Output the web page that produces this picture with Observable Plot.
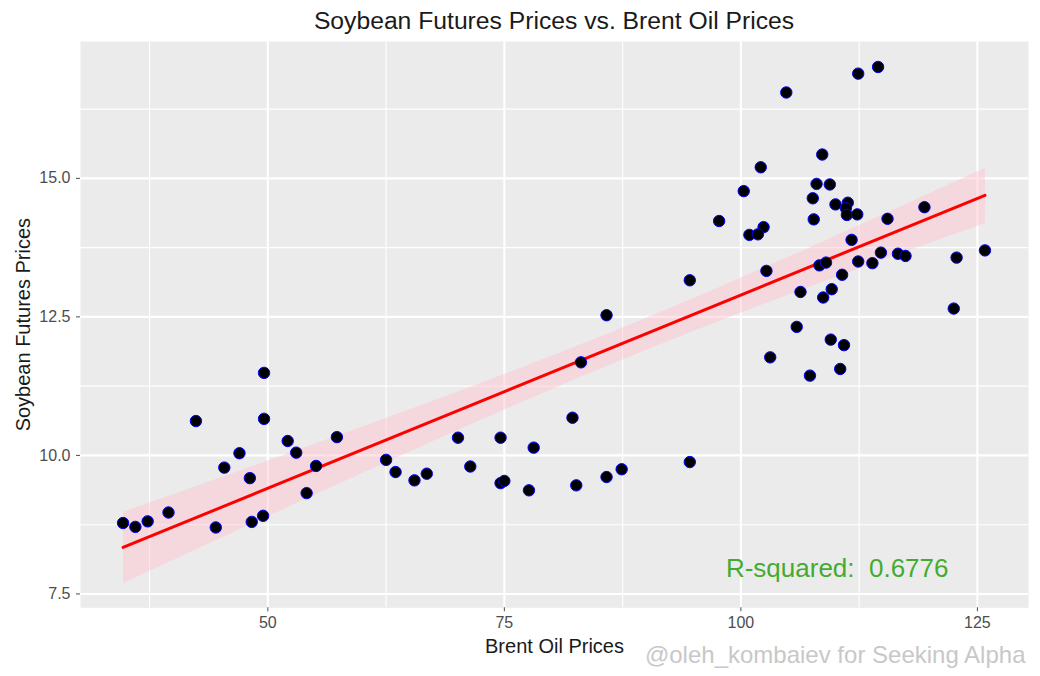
<!DOCTYPE html>
<html>
<head>
<meta charset="utf-8">
<script src="https://cdn.jsdelivr.net/npm/d3@7"></script>
<script src="https://cdn.jsdelivr.net/npm/@observablehq/plot@0.6"></script>
<style>
  body { margin: 0; background: white; font-family: "Liberation Sans", Arial, sans-serif; }
  #wrap { width: 1040px; height: 676px; }
  #title { height: 41px; line-height: 41px; padding-left: 80px; width: 948px; text-align: center; font-size: 24.7px; color: #1a1a1a; }
</style>
</head>
<body>
<div id="wrap">
  <div id="title">Soybean Futures Prices vs. Brent Oil Prices</div>
  <div id="chart"></div>
</div>
<script>
// Brent oil prices (x) and soybean futures prices (y)
const oil = [
  49.6, 42.4, 49.6, 52.1, 53.0, 47.0, 57.3, 45.4, 55.1, 48.1, 54.1, 39.5, 34.7, 36.0, 37.3, 44.5, 48.3, 49.5,
  83.1, 82.2, 70.1, 74.6, 78.1, 62.5, 63.5, 65.5, 66.8, 71.4, 74.6, 75.0, 77.6, 82.6, 85.8, 87.4, 94.6, 85.8, 94.6,
  114.5, 112.4, 104.8, 108.6, 102.1, 100.3, 108.0, 109.4, 107.6, 110.0, 111.3, 111.1, 111.2, 112.3, 107.7, 97.7, 115.5, 119.4, 102.4, 100.9, 101.8, 111.7,
  102.7, 108.3, 109.0, 110.7, 112.4, 113.9, 114.8, 116.6, 117.4, 122.8, 125.8, 106.3, 109.6, 108.7, 122.5, 105.9, 109.5, 110.9, 103.1, 110.5, 107.3
];
const soy = [
  11.49, 10.62, 10.66, 10.26, 10.05, 10.04, 10.33, 9.78, 9.81, 9.59, 9.32, 8.97, 8.78, 8.71, 8.81, 8.70, 8.80, 8.91,
  11.68, 10.68, 10.32, 10.32, 10.14, 9.92, 9.70, 9.55, 9.67, 9.80, 9.50, 9.54, 9.37, 9.46, 9.61, 9.75, 9.88, 12.53, 13.16,
  17.01, 16.89, 16.55, 15.43, 15.20, 14.77, 14.90, 14.89, 14.64, 14.53, 14.56, 14.46, 14.34, 14.35, 14.26, 14.23, 14.27, 14.48, 14.12, 13.98, 13.99, 13.89,
  13.33, 13.43, 13.48, 13.26, 13.50, 13.47, 13.66, 13.64, 13.60, 13.57, 13.70, 12.95, 13.00, 12.85, 12.65, 12.32, 12.09, 11.99, 11.77, 11.56, 11.44
];
const xMajor = [50, 75, 100, 125];
const xMinor = [37.5, 62.5, 87.5, 112.5];
const yMajor = [7.5, 10, 12.5, 15];
const yMinor = [8.75, 11.25, 13.75, 16.25];
const rSquaredLabel = "R-squared:\u00a0 0.6776";
const xTitle = "Brent Oil Prices";
const yTitle = "Soybean Futures Prices";
const credit = "@oleh_kombaiev for Seeking Alpha";

const data = oil.map((x, i) => ({oil: x, soy: soy[i]}));

const chart = Plot.plot({
  width: 1040,
  height: 635,
  marginLeft: 80,
  marginRight: 12,
  marginTop: 0,
  marginBottom: 68.7,
  style: {fontFamily: "Liberation Sans, Arial, sans-serif", background: "white"},
  x: {domain: [30.2, 130.4]},
  y: {domain: [7.25, 17.47]},
  marks: [
    Plot.frame({fill: "#ebebeb", stroke: null}),
    Plot.gridX(xMinor, {stroke: "white", strokeOpacity: 1, strokeWidth: 1.1}),
    Plot.gridY(yMinor, {stroke: "white", strokeOpacity: 1, strokeWidth: 1.1}),
    Plot.gridX(xMajor, {stroke: "white", strokeOpacity: 1, strokeWidth: 2.1}),
    Plot.gridY(yMajor, {stroke: "white", strokeOpacity: 1, strokeWidth: 2.1}),
    Plot.axisX(xMajor, {tickSize: 4, tickPadding: 4.5, fontSize: 16, color: "#4d4d4d", label: null}),
    Plot.axisY(yMajor, {tickSize: 4, tickPadding: 6, fontSize: 16, color: "#4d4d4d", label: null, tickFormat: d => d.toFixed(1)}),
    Plot.linearRegressionY(data, {x: "oil", y: "soy", stroke: "red", strokeWidth: 3, fill: "pink", fillOpacity: 0.45, ci: 0.95}),
    Plot.dot(data, {x: "oil", y: "soy", r: 5.7, fill: "black", stroke: "blue", strokeWidth: 1}),
    Plot.text([rSquaredLabel], {frameAnchor: "bottom-right", textAnchor: "end", dx: -80, dy: -31, fontSize: 26, fill: "#44ab30"}),
    Plot.text([xTitle], {frameAnchor: "bottom", dy: 45.5, fontSize: 20, fill: "#1a1a1a"}),
    Plot.text([yTitle], {frameAnchor: "left", textAnchor: "middle", rotate: -90, dx: -57, fontSize: 20, fill: "#1a1a1a"}),
    Plot.text([credit], {frameAnchor: "bottom-right", textAnchor: "end", dx: -3, dy: 55, fontSize: 24, fill: "#c8c8c8"})
  ]
});
document.getElementById("chart").appendChild(chart);
</script>
</body>
</html>
